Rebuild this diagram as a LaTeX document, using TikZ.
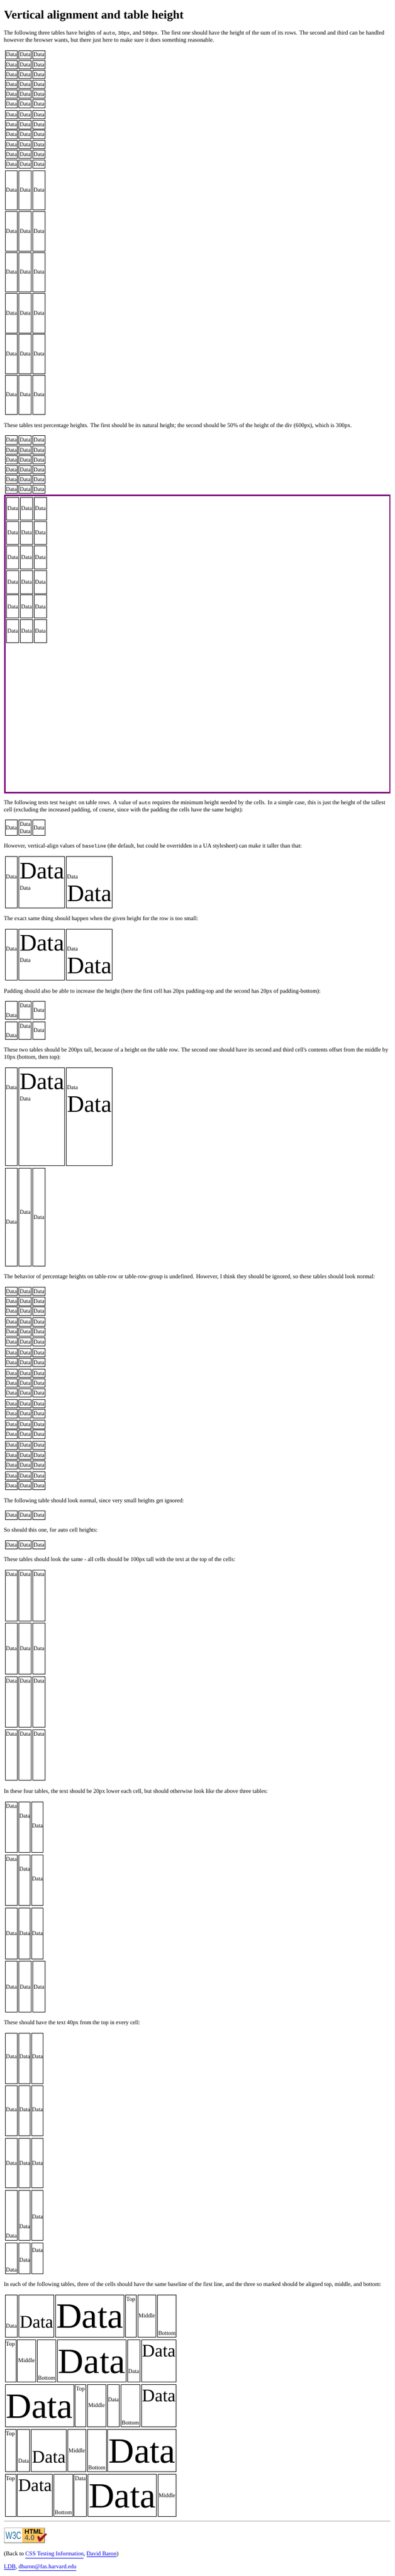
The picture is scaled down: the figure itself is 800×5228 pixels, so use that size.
\documentclass[tikz,border=0pt]{standalone}
\usepackage{fontspec}
\setmainfont{Liberation Serif}
\setsansfont{Liberation Sans}
\setmonofont{Liberation Mono}
\newfontfamily\narrowserif[FakeStretch=0.97]{Liberation Serif}
\definecolor{linkblue}{HTML}{0000EE}
\definecolor{divpurple}{HTML}{800080}
\definecolor{rulegray}{HTML}{A0A0A0}
\definecolor{badgeorange}{HTML}{FCC65F}
\definecolor{badgeblue}{HTML}{1A6C9C}
\definecolor{badgered}{HTML}{A0152E}
\newcommand\fsS{\narrowserif\fontsize{9pt}{10.5pt}\selectfont}
\newcommand\fsL{\fontsize{36pt}{41pt}\selectfont}
\newcommand\fsM{\fontsize{27pt}{31pt}\selectfont}
\newcommand\fsX{\fontsize{54pt}{62pt}\selectfont}
\newcommand\cd[1]{{\ttfamily\fontsize{7.5pt}{9pt}\selectfont #1}}
\newcommand\lnk[1]{{\color{linkblue}\underline{#1}}}
\newcounter{cnt}
\tikzset{
  cellbox/.style={draw=black,line width=0.75pt,inner sep=0pt,outer sep=0pt},
  celltext/.style={anchor=base west,inner sep=0pt,outer sep=0pt,text=black},
  para/.style={anchor=base west,inner sep=0pt,outer sep=0pt,font=\fsS},
}
% outer edges x1,x2,y1,y2 of one bordered cell
\newcommand\tcell[4]{\stepcounter{cnt}%
  \node[cellbox,minimum width={((#2)-(#1)-1)*0.75pt},minimum height={((#4)-(#3)-1)*0.75pt}]
    (c\arabic{cnt}) at ({((#1)+(#2))/2},{((#3)+(#4))/2}) {};}
% text at x, baseline y
\newcommand\ttxt[4][\fsS]{\stepcounter{cnt}%
  \node[celltext] (t\arabic{cnt}) at ({#2},{#3}) {#1\relax #4};}
\newcommand\dcn[7][\fsS]{\tcell{#2}{#3}{#4}{#5}\ttxt[#1]{(#2)+2}{#6}{#7}}
% three plain columns: xoff, top, bottom, baselines
\newcommand\triple[6]{%
  \dcn{10+#1}{36+#1}{#2}{#3}{#4}{Data}%
  \dcn{38+#1}{64+#1}{#2}{#3}{#5}{Data}%
  \dcn{66+#1}{92+#1}{#2}{#3}{#6}{Data}}
% three columns, the last two narrower
\newcommand\narrowrow[5]{%
  \tcell{10}{36}{#1}{#2}\ttxt{12}{#3}{Data}%
  \tcell{38}{62}{#1}{#2}\ttxt{39}{#4}{Data}%
  \tcell{64}{88}{#1}{#2}\ttxt{65}{#5}{Data}}
% natural-height row at top y
\newcommand\plainrow[1]{\triple{0}{#1}{#1+18}{#1+13}{#1+13}{#1+13}}
% 48px table
\newcommand\bigtable[2]{%
  \tcell{10}{36}{#1}{#2}\ttxt{12}{#1+45}{Data}%
  \tcell{38}{132}{#1}{#2}\ttxt[\fsL]{40}{#1+45}{Data}\ttxt{40}{#1+68}{Data}%
  \tcell{134}{228}{#1}{#2}\ttxt{136}{#1+45}{Data}\ttxt[\fsL]{136}{#1+91}{Data}}
% baseline y, width in px, text
\newcommand\ptxt[3]{\stepcounter{cnt}\node[para] (p\arabic{cnt}) at (8,#1) {\resizebox{#2\dimexpr 0.75pt\relax}{\height}{#3}};}
\begin{document}
\begin{tikzpicture}[x=0.75pt,y=-0.75pt]
\useasboundingbox (0,0) rectangle (800,5228);
\fill[white] (0,0) rectangle (800,5228);

\node[anchor=base west,inner sep=0pt,font=\fontsize{18pt}{21pt}\selectfont\bfseries] (title) at (8,38) {\resizebox{273pt}{\height}{Vertical alignment and table height}};

\ptxt{71}{771.1}{The following three tables have heights of \cd{auto}, \cd{30px}, and \cd{500px}. The first one should have the height of the sum of its rows. The second and third can be handled}
\ptxt{85}{426.2}{however the browser wants, but there just here to make sure it does something reasonable.}
\foreach \y in {102,122,142,162,182,202,224,244,264,284,304,324} {\plainrow{\y}}
\foreach \y in {346,429,512,595,678,761} {\triple{0}{\y}{\y+81}{\y+44}{\y+44}{\y+44}}

\ptxt{867}{705.3}{These tables test percentage heights. The first should be its natural height; the second should be 50\% of the height of the div (600px), which is 300px.}
\foreach \y in {884,904,924,944,964,984} {\plainrow{\y}}

\node[draw=divpurple,line width=2.25pt,inner sep=0pt,outer sep=0pt,minimum width=585.75pt,minimum height=452.25pt] (purplediv) at (400,1307) {};
\triple{3}{1009}{1056}{1036}{1036}{1036}
\triple{3}{1058}{1105}{1085}{1085}{1085}
\triple{3}{1107}{1155}{1135}{1135}{1135}
\triple{3}{1157}{1205}{1185}{1185}{1185}
\triple{3}{1207}{1255}{1235}{1235}{1235}
\triple{3}{1257}{1305}{1285}{1285}{1285}

\ptxt{1633}{773.1}{The following tests test \cd{height} on table rows. A value of \cd{auto} requires the minimum height needed by the cells. In a simple case, this is just the height of the tallest}
\ptxt{1647}{484.9}{cell (excluding the increased padding, of course, since with the padding the cells have the same height):}
\tcell{10}{36}{1664}{1696}\ttxt{12}{1684}{Data}
\tcell{38}{64}{1664}{1696}\ttxt{40}{1677}{Data}\ttxt{40}{1691}{Data}
\tcell{66}{92}{1664}{1696}\ttxt{68}{1684}{Data}

\ptxt{1721}{604.2}{However, vertical-align values of \cd{baseline} (the default, but could be overridden in a UA stylesheet) can make it taller than that:}
\bigtable{1738}{1843}
\ptxt{1868}{394}{The exact same thing should happen when the given height for the row is too small:}
\bigtable{1885}{1990}
\ptxt{2015}{642}{Padding should also be able to increase the height (here the first cell has 20px padding-top and the second has 20px of padding-bottom):}
\triple{0}{2032}{2069}{2064}{2045}{2054}
\triple{0}{2073}{2110}{2105}{2086}{2095}
\ptxt{2135}{779.2}{These two tables should be 200px tall, because of a height on the table row. The second one should have its second and third cell's contents offset from the middle by}
\ptxt{2149}{115}{10px (bottom, then top):}
\bigtable{2166}{2366}
\triple{0}{2370}{2570}{2484}{2464}{2474}
\ptxt{2595}{752.2}{The behavior of percentage heights on table-row or table-row-group is undefined. However, I think they should be ignored, so these tables should look normal:}
\foreach \y in {2612,2632,2652,2674,2694,2714,2736,2756,2778,2798,2818,2840,2860,2882,2902,2924,2944,2964,2986,3006} {\plainrow{\y}}
\ptxt{3049}{365}{The following table should look normal, since very small heights get ignored:}
\plainrow{3066}
\ptxt{3109}{190}{So should this one, for auto cell heights:}
\plainrow{3126}
\ptxt{3169}{469}{These tables should look the same - all cells should be 100px tall with the text at the top of the cells:}
\triple{0}{3186}{3290}{3199}{3199}{3199}
\triple{0}{3294}{3398}{3350}{3350}{3350}
\triple{0}{3402}{3506}{3415}{3415}{3415}
\triple{0}{3510}{3614}{3523}{3523}{3523}
\ptxt{3639}{534.9}{In these four tables, the text should be 20px lower each cell, but should otherwise look like the above three tables:}
\narrowrow{3656}{3760}{3669}{3689}{3709}
\narrowrow{3764}{3868}{3777}{3797}{3817}
\narrowrow{3872}{3976}{3928}{3928}{3928}
\triple{0}{3980}{4084}{4036}{4036}{4036}
\ptxt{4109}{276.2}{These should have the text 40px from the top in every cell:}
\narrowrow{4126}{4229}{4178}{4178}{4178}
\narrowrow{4233}{4335}{4285}{4285}{4285}
\narrowrow{4339}{4441}{4394}{4394}{4394}
\narrowrow{4445}{4547}{4542}{4523}{4503}
\narrowrow{4551}{4615}{4610}{4591}{4571}
\ptxt{4640}{765}{In each of the following tables, three of the cells should have the same baseline of the first line, and the three so marked should be aligned top, middle, and bottom:}

% baseline tables
\dcn{10}{36}{4657}{4744}{4725}{Data}
\dcn[\fsM]{38}{110}{4657}{4744}{4725}{Data}
\dcn[\fsX]{112}{252}{4657}{4744}{4725}{Data}
\dcn{254}{277}{4657}{4744}{4670}{Top}
\dcn{279}{317}{4657}{4744}{4704}{Middle}
\dcn{319}{358}{4657}{4744}{4739}{Bottom}

\dcn{10}{33}{4748}{4835}{4761}{Top}
\dcn{35}{73}{4748}{4835}{4795}{Middle}
\dcn{75}{114}{4748}{4835}{4830}{Bottom}
\dcn[\fsX]{116}{256}{4748}{4835}{4816}{Data}
\dcn{258}{284}{4748}{4835}{4816}{Data}
\dcn[\fsM]{286}{358}{4748}{4835}{4783}{Data}

\dcn[\fsX]{10}{150}{4839}{4926}{4907}{Data}
\dcn{152}{175}{4839}{4926}{4852}{Top}
\dcn{177}{215}{4839}{4926}{4886}{Middle}
\dcn{217}{243}{4839}{4926}{4874}{Data}
\dcn{245}{284}{4839}{4926}{4921}{Bottom}
\dcn[\fsM]{286}{358}{4839}{4926}{4874}{Data}

\dcn{10}{33}{4930}{5017}{4943}{Top}
\dcn{35}{61}{4930}{5017}{4998}{Data}
\dcn[\fsM]{63}{135}{4930}{5017}{4998}{Data}
\dcn{137}{175}{4930}{5017}{4977}{Middle}
\dcn{177}{216}{4930}{5017}{5012}{Bottom}
\dcn[\fsX]{218}{358}{4930}{5017}{4998}{Data}

\dcn{10}{33}{5021}{5108}{5034}{Top}
\dcn[\fsM]{35}{107}{5021}{5108}{5056}{Data}
\dcn{109}{148}{5021}{5108}{5103}{Bottom}
\dcn{150}{176}{5021}{5108}{5034}{Data}
\dcn[\fsX]{178}{318}{5021}{5108}{5089}{Data}
\dcn{320}{358}{5021}{5108}{5068}{Middle}

% rule
\fill[rulegray] (8,5116) rectangle (792,5117.5);

% badge
\fill[white] (8,5130) rectangle (45,5161);
\fill[badgeorange] (45,5130) rectangle (91,5161);
\draw[gray!60,line width=0.75pt] (8.5,5160.5) -- (8.5,5130.5) -- (90.5,5130.5);
\draw[black!60,line width=0.75pt] (8.5,5160.5) -- (90.5,5160.5) -- (90.5,5130.5);
\node[anchor=base west,inner sep=0pt,text=badgeblue,font=\sffamily\fontsize{15pt}{17pt}\selectfont] (w3c) at (11,5153) {\scalebox{0.72}[1.05]{W3C}};
\node[anchor=base west,inner sep=0pt,font=\sffamily\bfseries\fontsize{10pt}{12pt}\selectfont] (html) at (49.5,5143) {HTML};
\node[anchor=base west,inner sep=0pt,text=black!60,font=\sffamily\bfseries\fontsize{11pt}{13pt}\selectfont] (four) at (49.5,5155) {4.0};
\fill[badgered] (75.5,5149) -- (78,5146) -- (81.5,5151) -- (92,5141.5) -- (95.5,5143) -- (82,5158) -- (79,5158) -- cycle;

\ptxt{5187}{232.3}{(Back to \lnk{CSS Testing Information}, \lnk{David Baron})}
\ptxt{5213}{147}{\lnk{LDB}, \lnk{dbaron@fas.harvard.edu}}
\end{tikzpicture}
\end{document}
